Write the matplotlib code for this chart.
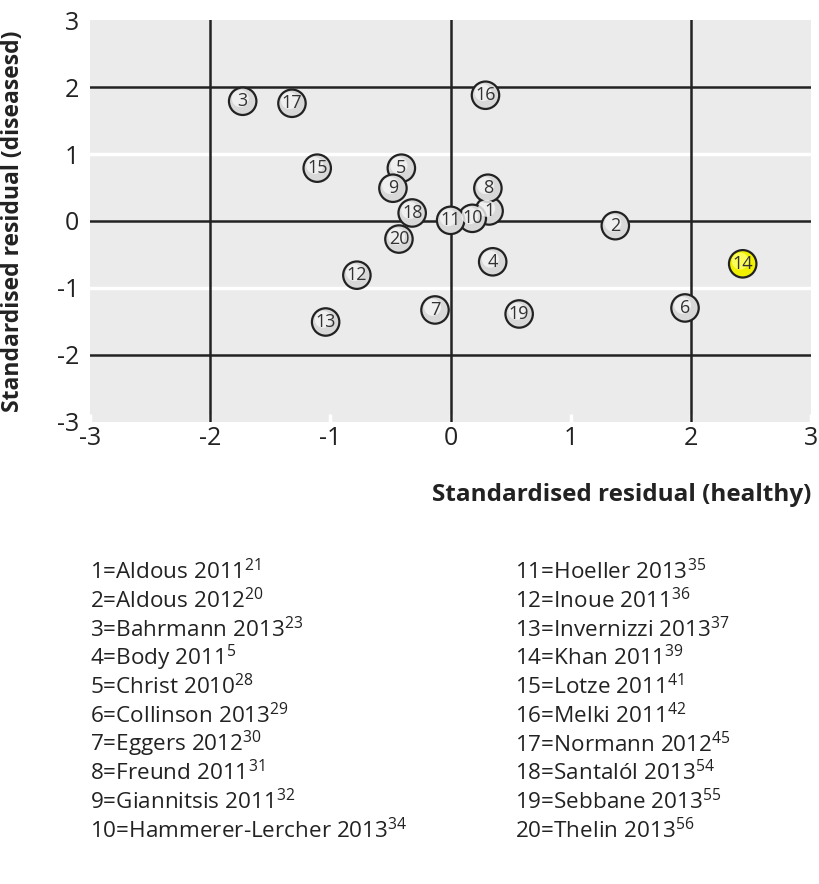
import numpy as np
import matplotlib.pyplot as plt

plt.rcParams['font.family'] = ['Open Sans', 'DejaVu Sans']
plt.rcParams['mathtext.fontset'] = 'custom'
plt.rcParams['mathtext.rm'] = 'Open Sans'

# study numbers and standardised residuals
study_ids = list(range(1, 21))
healthy = [0.32, 1.37, -1.73, 0.35, -0.41, 1.95, -0.13, 0.31, -0.48, 0.18,
           0.0, -0.78, -1.04, 2.43, -1.11, 0.29, -1.32, -0.32, 0.57, -0.43]
diseased = [0.15, -0.07, 1.79, -0.61, 0.79, -1.30, -1.33, 0.49, 0.49, 0.04,
            0.01, -0.81, -1.51, -0.64, 0.79, 1.88, 1.76, 0.12, -1.39, -0.27]
highlight = 14

names = ['Aldous 2011', 'Aldous 2012', 'Bahrmann 2013', 'Body 2011', 'Christ 2010',
         'Collinson 2013', 'Eggers 2012', 'Freund 2011', 'Giannitsis 2011',
         'Hammerer-Lercher 2013', 'Hoeller 2013', 'Inoue 2011', 'Invernizzi 2013',
         'Khan 2011', 'Lotze 2011', 'Melki 2011', 'Normann 2012', 'Santalól 2013',
         'Sebbane 2013', 'Thelin 2013']
refs = ['21', '20', '23', '5', '28', '29', '30', '31', '32', '34',
        '35', '36', '37', '39', '41', '42', '45', '54', '55', '56']

fig = plt.figure(figsize=(8.2, 8.84), dpi=100)
ax = fig.add_axes([0.1098, 0.523, 0.8795, 0.454])
ax.set_facecolor('#ebebeb')
ax.set_xlim(-3, 3)
ax.set_ylim(-3, 3)

for v in [-1, 1]:
    ax.axhline(v, color='white', lw=2.5, zorder=1)
for v in [-2, 0, 2]:
    ax.axhline(v, color='#222222', lw=1.8, zorder=2)
    ax.axvline(v, color='#222222', lw=1.8, zorder=2)

for s in ax.spines.values():
    s.set_visible(False)
ticks = [-3, -2, -1, 0, 1, 2, 3]
ax.set_xticks(ticks)
ax.set_yticks(ticks)
ax.set_xticklabels([str(t) for t in ticks])
ax.set_yticklabels([str(t) for t in ticks])
ax.tick_params(axis='x', direction='in', length=6, width=2.5, color='white',
               labelsize=18, labelcolor='#222222', pad=3)
ax.tick_params(axis='y', length=0, labelsize=18, labelcolor='#222222', pad=8)

cols = ['#f0f000' if i == highlight else '#d8d8d8' for i in study_ids]
ax.scatter(healthy, diseased, s=390, c=cols, edgecolors='#222222', linewidths=1.6, zorder=3)
# light sheen on top-left of each ball
hl = ['#ffff70' if i == highlight else '#f6f6f6' for i in study_ids]
ax.scatter(np.array(healthy) - 0.02, np.array(diseased) + 0.04, s=150, c=hl,
           edgecolors='none', alpha=0.8, zorder=4)
for i, x, y in zip(study_ids, healthy, diseased):
    ax.text(x, y, str(i), ha='center', va='center', fontsize=13,
            color='#333333', zorder=5)

ax.set_ylabel('Standardised residual (diseasesd)', fontsize=16.5, fontweight='bold',
              color='#222222')
ax.yaxis.set_label_coords(-0.09, 0.5)
fig.text(0.989, 0.44, 'Standardised residual (healthy)', ha='right', va='center',
         fontsize=17.5, fontweight='bold', color='#222222')

# key to study numbers
y0 = 0.353
dy = 28.7 / 884
for k in range(20):
    col = k // 10
    row = k % 10
    xx = 0.11 if col == 0 else 0.628
    label = f'{study_ids[k]}={names[k]}' + '$^{\\mathrm{' + refs[k] + '}}$'
    fig.text(xx, y0 - row * dy, label, ha='left', va='center', fontsize=16.2,
             color='#222222')

fig.savefig('out.png', dpi=100)
